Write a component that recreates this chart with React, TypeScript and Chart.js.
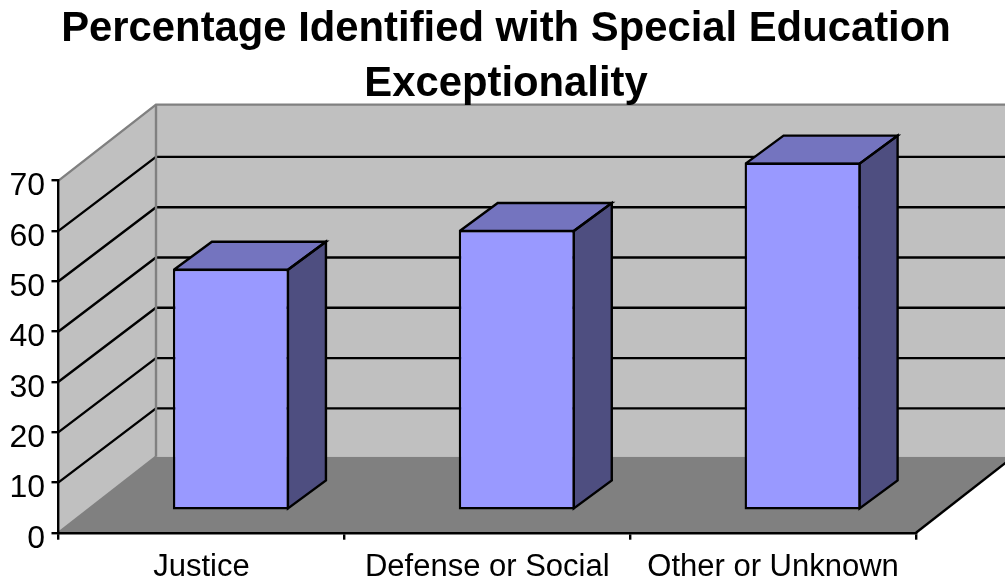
import React, { useEffect, useRef } from "react";
import { Chart, registerables } from "chart.js";

Chart.register(...registerables);

const TITLE_LINES = ["Percentage Identified with Special Education", "Exceptionality"];
const CATEGORIES = ["Justice", "Defense or Social", "Other or Unknown"];
const PERCENT_VALUES = [48.1, 55.8, 69.2];
const Y_TICK_STEP = 10;
const Y_MAX = 70;

const FONT = "'Liberation Sans', Arial, sans-serif";

// Projection of the box: how far the back wall and each bar recede.
const WALL_DEPTH = { x: 97.5, y: -76 };
const GRID_DEPTH_Y = -74;
const BAR_INSET = { x: 29.5, y: -22 };
const BAR_DEPTH = { x: 38, y: -28 };
const LINE_WIDTH = 2.4;

const COLORS = {
  wall: "#c0c0c0",
  floor: "#808080",
  wallEdge: "#808080",
  line: "#000000",
  barFront: "#9999ff",
  barTop: "#7474bf",
  barSide: "#4e4e80",
};

function fillPoly(ctx: CanvasRenderingContext2D, pts: number[][], fill: string) {
  ctx.beginPath();
  pts.forEach(([x, y], i) => (i ? ctx.lineTo(x, y) : ctx.moveTo(x, y)));
  ctx.closePath();
  ctx.fillStyle = fill;
  ctx.fill();
}

function strokeLine(ctx: CanvasRenderingContext2D, pts: number[][], color: string, width = LINE_WIDTH) {
  ctx.beginPath();
  pts.forEach(([x, y], i) => (i ? ctx.lineTo(x, y) : ctx.moveTo(x, y)));
  ctx.strokeStyle = color;
  ctx.lineWidth = width;
  ctx.stroke();
}

// Walls, floor and receding gridlines, all positioned from the chart's scales.
const boxPlugin = {
  id: "box3d",
  afterLayout(chart: any) {
    // Centre the title over the whole drawing, depth included.
    chart.titleBlock.left += 48;
    chart.titleBlock.right += 48;
  },
  beforeDraw(chart: any) {
    const { ctx, chartArea, scales } = chart;
    const { left, right, top, bottom } = chartArea;
    const dx = WALL_DEPTH.x;
    const dy = WALL_DEPTH.y;

    ctx.save();
    fillPoly(ctx, [[left + dx, top + dy], [right + dx, top + dy], [right + dx, bottom + dy], [left + dx, bottom + dy]], COLORS.wall);
    fillPoly(ctx, [[left, top], [left + dx, top + dy], [left + dx, bottom + dy], [left, bottom]], COLORS.wall);
    fillPoly(ctx, [[left, bottom], [right, bottom], [right + dx, bottom + dy], [left + dx, bottom + dy]], COLORS.floor);

    scales.y.ticks.forEach((tick: any) => {
      const y = scales.y.getPixelForValue(tick.value);
      if (tick.value === 0 || tick.value === Y_MAX) return;
      strokeLine(ctx, [[left, y], [left + dx, y + GRID_DEPTH_Y], [right + dx, y + GRID_DEPTH_Y]], COLORS.line);
    });

    strokeLine(ctx, [[left, top], [left + dx, top + dy], [right + dx, top + dy]], COLORS.wallEdge);
    strokeLine(ctx, [[left + dx, top + dy], [left + dx, bottom + dy]], COLORS.wallEdge);
    strokeLine(ctx, [[left, bottom], [left + dx, bottom + dy]], COLORS.wallEdge);
    strokeLine(ctx, [[right, bottom], [right + dx, bottom + dy]], COLORS.line);
    ctx.restore();
  },
  beforeDatasetDraw(chart: any, args: any) {
    const { ctx } = chart;
    ctx.save();
    ctx.translate(BAR_INSET.x, BAR_INSET.y);
    const ddx = BAR_DEPTH.x;
    const ddy = BAR_DEPTH.y;
    args.meta.data.forEach((bar: any) => {
      const { x, y, base, width } = bar.getProps(["x", "y", "base", "width"], true);
      const l = x - width / 2 + 1;
      const r = x + width / 2 - 1;
      const t = y + 1;
      const b = base - 1;
      const topFace = [[l, t], [l + ddx, t + ddy], [r + ddx, t + ddy], [r, t]];
      const sideFace = [[r, t], [r + ddx, t + ddy], [r + ddx, b + ddy], [r, b]];
      fillPoly(ctx, topFace, COLORS.barTop);
      fillPoly(ctx, sideFace, COLORS.barSide);
      ctx.lineJoin = "miter";
      strokeLine(ctx, [...topFace, topFace[0]], COLORS.line);
      strokeLine(ctx, [...sideFace, sideFace[0]], COLORS.line);
    });
  },
  afterDatasetDraw(chart: any) {
    chart.ctx.restore();
  },
};

export default function App() {
  const canvasRef = useRef<HTMLCanvasElement>(null);

  useEffect(() => {
    document.body.style.margin = "0";
    const chart = new Chart(canvasRef.current!, {
      type: "bar",
      data: {
        labels: CATEGORIES,
        datasets: [
          {
            data: PERCENT_VALUES,
            backgroundColor: COLORS.barFront,
            borderColor: COLORS.line,
            borderWidth: LINE_WIDTH,
            borderSkipped: false,
            barPercentage: 0.406,
            categoryPercentage: 1,
            clip: false,
          },
        ],
      },
      options: {
        animation: false,
        responsive: false,
        devicePixelRatio: 1,
        layout: { padding: { left: 0, right: 89, top: 0, bottom: 0 } },
        plugins: {
          legend: { display: false },
          tooltip: { enabled: false },
          title: {
            display: true,
            text: TITLE_LINES,
            color: "#000000",
            font: { family: FONT, size: 41.8, weight: "bold", lineHeight: 1.3 },
            padding: { top: 2.5, bottom: 69.4 },
          },
        },
        scales: {
          x: {
            grid: { drawOnChartArea: false, drawTicks: true, color: COLORS.line, lineWidth: LINE_WIDTH, tickLength: 7 },
            border: { color: COLORS.line, width: LINE_WIDTH },
            ticks: { color: "#000000", font: { family: FONT, size: 31 }, maxRotation: 0, autoSkip: false, padding: 9 },
            afterFit(scale: any) {
              scale.height = 50.3;
            },
          },
          y: {
            min: 0,
            max: Y_MAX,
            grid: { drawOnChartArea: false, drawTicks: true, color: COLORS.line, lineWidth: LINE_WIDTH, tickLength: 7 },
            border: { color: COLORS.line, width: LINE_WIDTH },
            ticks: { stepSize: Y_TICK_STEP, color: "#000000", font: { family: FONT, size: 32 }, padding: 6.5 },
            afterFit(scale: any) {
              scale.width = 58.5;
            },
            afterUpdate(scale: any) {
              // Tick numbers sit slightly below their tick marks.
              const items = scale.getLabelItems.bind(scale);
              scale.getLabelItems = (area: any) =>
                items(area).map((item: any) => ({ ...item, textOffset: item.textOffset + 3 }));
            },
          },
        },
      },
      plugins: [boxPlugin],
    } as any);
    return () => chart.destroy();
  }, []);

  return <canvas ref={canvasRef} width={1005} height={583} style={{ display: "block" }} />;
}
